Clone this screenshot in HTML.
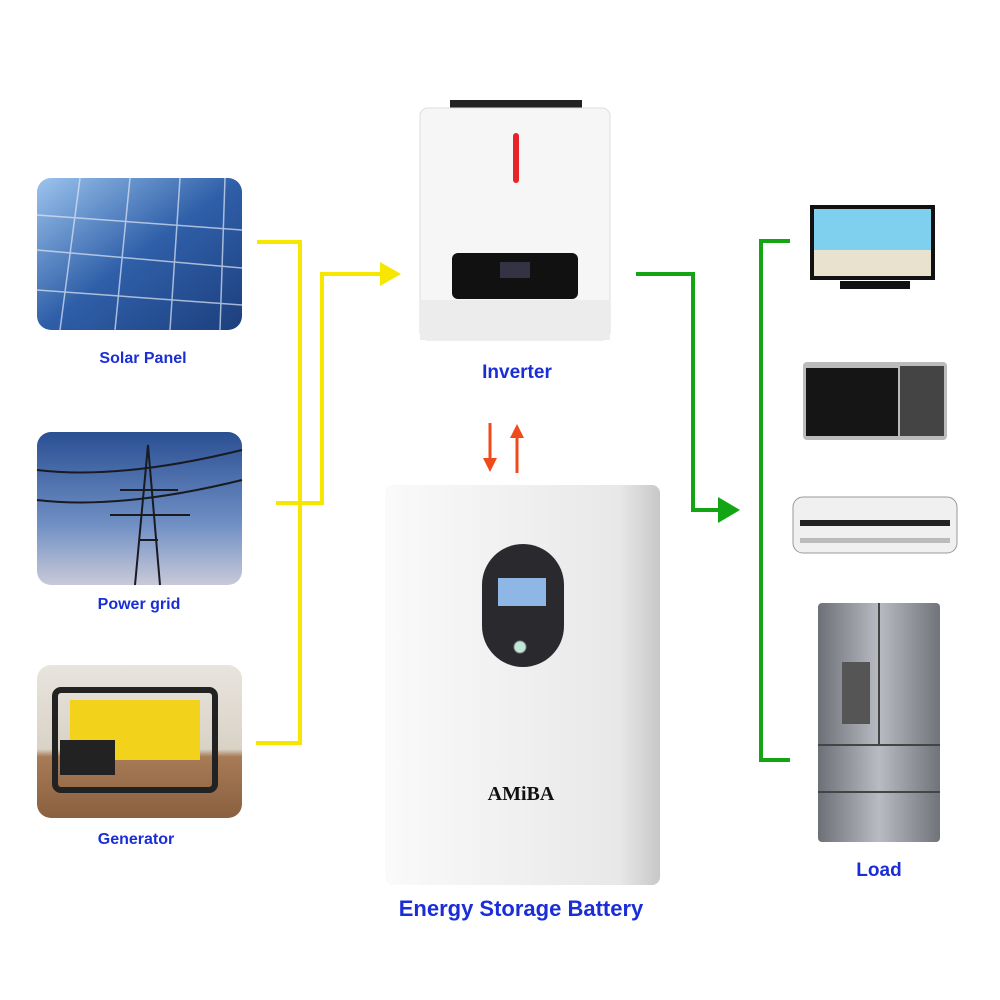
<!DOCTYPE html>
<html><head><meta charset="utf-8"><style>
html,body{margin:0;padding:0;background:#fff;}
svg{display:block}
text{font-family:"Liberation Sans",sans-serif;font-weight:bold;fill:#1a2ed8;text-anchor:middle}
</style></head><body>
<svg width="1000" height="1000" viewBox="0 0 1000 1000" xmlns="http://www.w3.org/2000/svg">
<defs>
<linearGradient id="sky" x1="0" y1="0" x2="0" y2="1"><stop offset="0" stop-color="#2a4f93"/><stop offset="0.6" stop-color="#6f8fc4"/><stop offset="1" stop-color="#c9c9d8"/></linearGradient>
<linearGradient id="sol" x1="0" y1="0" x2="1" y2="1"><stop offset="0" stop-color="#9cc4ee"/><stop offset="0.5" stop-color="#2f5fa8"/><stop offset="1" stop-color="#1d3f7e"/></linearGradient>
<linearGradient id="gen" x1="0" y1="0" x2="0" y2="1"><stop offset="0" stop-color="#e8e4de"/><stop offset="0.55" stop-color="#d9d2c6"/><stop offset="0.6" stop-color="#a77b55"/><stop offset="1" stop-color="#8a6040"/></linearGradient>
<linearGradient id="steel" x1="0" y1="0" x2="1" y2="0"><stop offset="0" stop-color="#6d7177"/><stop offset="0.5" stop-color="#b8bcc2"/><stop offset="1" stop-color="#70747a"/></linearGradient>
<linearGradient id="bat" x1="0" y1="0" x2="1" y2="0"><stop offset="0" stop-color="#fafafa"/><stop offset="0.85" stop-color="#e8e8e8"/><stop offset="1" stop-color="#c8c8c8"/></linearGradient>
</defs>
<!-- left images -->
<rect x="37" y="178" width="205" height="152" rx="14" fill="url(#sol)"/>
<g stroke="#dfe8f5" stroke-width="1.5" opacity="0.7">
<line x1="37" y1="215" x2="242" y2="230"/><line x1="37" y1="250" x2="242" y2="268"/><line x1="37" y1="290" x2="242" y2="305"/>
<line x1="80" y1="178" x2="60" y2="330"/><line x1="130" y1="178" x2="115" y2="330"/><line x1="180" y1="178" x2="170" y2="330"/><line x1="225" y1="178" x2="220" y2="330"/>
</g>
<rect x="37" y="432" width="205" height="153" rx="14" fill="url(#sky)"/>
<g stroke="#1a1a22" stroke-width="2" fill="none">
<path d="M135 585 L148 445 L160 585 M120 490 L178 490 M110 515 L190 515 M140 540 L158 540"/>
<path d="M37 470 Q120 480 242 450 M37 500 Q120 510 242 480"/>
</g>
<rect x="37" y="665" width="205" height="153" rx="14" fill="url(#gen)"/>
<rect x="55" y="690" width="160" height="100" rx="6" fill="none" stroke="#222" stroke-width="6"/>
<rect x="70" y="700" width="130" height="60" fill="#f2d21b"/>
<rect x="60" y="740" width="55" height="35" fill="#222"/>
<!-- labels -->
<text x="143" y="363" font-size="16">Solar Panel</text>
<text x="139" y="609" font-size="16">Power grid</text>
<text x="136" y="844" font-size="16">Generator</text>
<text x="517" y="378" font-size="19">Inverter</text>
<text x="521" y="916" font-size="22">Energy Storage Battery</text>
<text x="879" y="876" font-size="19">Load</text>
<!-- yellow -->
<g stroke="#f7e600" stroke-width="4" fill="none">
<polyline points="257,242 300,242 300,743 256,743"/>
<polyline points="276,503 322,503 322,274 382,274"/>
</g>
<polygon points="380,262 401,274 380,286" fill="#f7e600"/>
<!-- green -->
<g stroke="#13a513" stroke-width="4" fill="none">
<polyline points="636,274 693,274 693,510 720,510"/>
<polyline points="790,241 761,241 761,760 790,760"/>
</g>
<polygon points="718,497 740,510 718,523" fill="#13a513"/>
<!-- orange arrows -->
<g stroke="#f04a1c" stroke-width="3">
<line x1="490" y1="423" x2="490" y2="462"/><line x1="517" y1="434" x2="517" y2="473"/>
</g>
<polygon points="483,458 497,458 490,472" fill="#f04a1c"/>
<polygon points="510,438 524,438 517,424" fill="#f04a1c"/>
<!-- inverter -->
<rect x="450" y="100" width="132" height="10" fill="#222"/>
<rect x="420" y="108" width="190" height="232" rx="8" fill="#f6f6f6" stroke="#ddd"/>
<rect x="420" y="300" width="190" height="40" fill="#ececec"/>
<rect x="513" y="133" width="6" height="50" rx="3" fill="#e8232a"/>
<rect x="452" y="253" width="126" height="46" rx="6" fill="#111"/>
<rect x="500" y="262" width="30" height="16" fill="#334"/>
<!-- battery -->
<rect x="385" y="485" width="275" height="400" rx="8" fill="url(#bat)"/>
<rect x="482" y="544" width="82" height="123" rx="41" fill="#2a2a2e"/>
<rect x="498" y="578" width="48" height="28" fill="#8fb7e6"/>
<circle cx="520" cy="647" r="6" fill="#bfe8d9" stroke="#888"/>
<text x="521" y="800" font-size="20" style="fill:#111;font-family:'Liberation Serif',serif">AMiBA</text>
<!-- TV -->
<rect x="810" y="205" width="125" height="75" fill="#111"/>
<rect x="814" y="209" width="117" height="67" fill="#7fd0ee"/>
<rect x="814" y="250" width="117" height="26" fill="#e8e2cf"/>
<rect x="840" y="281" width="70" height="8" fill="#111"/>
<!-- microwave -->
<rect x="803" y="362" width="144" height="78" rx="4" fill="#bbb"/>
<rect x="806" y="368" width="92" height="68" fill="#151515"/>
<rect x="900" y="366" width="44" height="70" fill="#444"/>
<!-- AC -->
<rect x="793" y="497" width="164" height="56" rx="10" fill="#f0f0f0" stroke="#999"/>
<rect x="800" y="520" width="150" height="6" fill="#222"/>
<rect x="800" y="538" width="150" height="5" fill="#bbb"/>
<!-- fridge -->
<rect x="818" y="603" width="122" height="239" rx="4" fill="url(#steel)"/>
<line x1="879" y1="603" x2="879" y2="745" stroke="#444" stroke-width="2"/>
<line x1="818" y1="745" x2="940" y2="745" stroke="#444" stroke-width="2"/>
<line x1="818" y1="792" x2="940" y2="792" stroke="#444" stroke-width="2"/>
<rect x="842" y="662" width="28" height="62" fill="#555"/>
</svg>
</body></html>
